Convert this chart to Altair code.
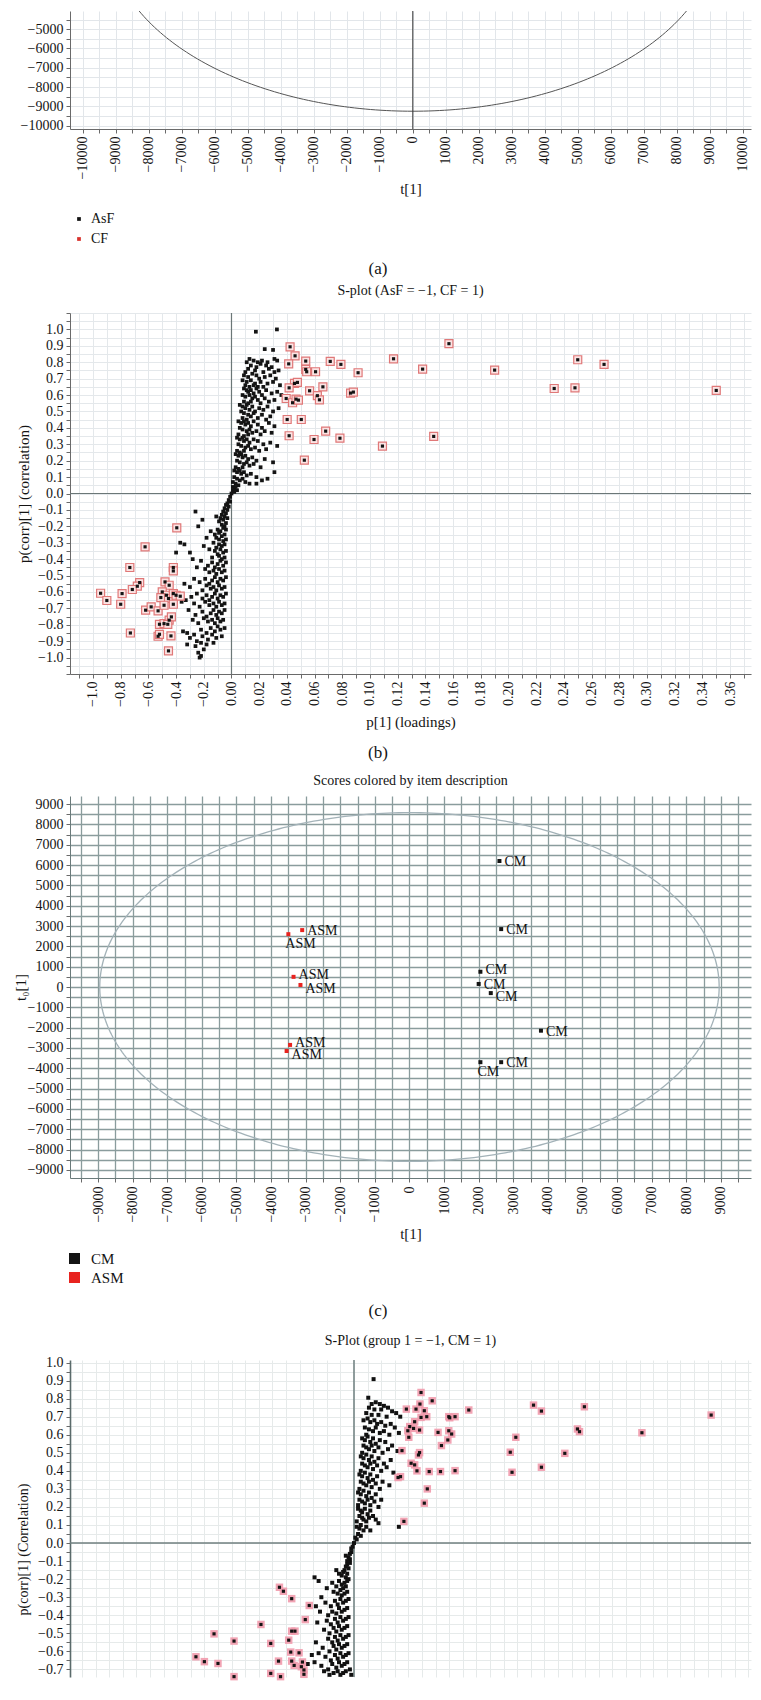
import altair as alt
import numpy as np
import pandas as pd

FONT = "Liberation Serif"
INK = "#141414"
W = 681          # common plot width
CAP_X = 308      # caption centre, relative to plot left

# ---------------- panel (a) ----------------
a_groups = ["AsF", "CF"]
a_colors = ["#141414", "#d8322c"]
a_ellipse_semi = [9230, 9250]
a_caption = "(a)"

# ---------------- panel (b) ----------------
b_title = "S-plot (AsF = \u22121, CF = 1)"
b_caption = "(b)"
b_black = [
    (0.0176, 0.986), (0.0328, 1.0), (0.024, 0.88), (0.030, 0.875),
    (0.013, 0.82), (0.016, 0.81), (0.011, 0.80), (0.019, 0.80), (0.022, 0.81), (0.026, 0.80), (0.031, 0.82), (0.033, 0.81),
    (0.014, 0.78), (0.018, 0.77), (0.021, 0.79), (0.025, 0.78), (0.029, 0.77), (0.012, 0.76), (0.017, 0.75), (0.027, 0.76),
    (0.034, 0.75), (0.010, 0.74), (0.023, 0.74), (0.031, 0.74),
    (0.009, 0.72), (0.012, 0.71), (0.015, 0.73), (0.018, 0.72), (0.020, 0.70), (0.024, 0.71), (0.028, 0.72), (0.032, 0.70),
    (0.008, 0.69), (0.011, 0.68), (0.014, 0.69), (0.017, 0.67), (0.021, 0.68), (0.026, 0.67), (0.030, 0.68), (0.035, 0.66),
    (0.010, 0.66), (0.013, 0.65), (0.016, 0.66), (0.019, 0.65), (0.023, 0.65),
    (0.009, 0.64), (0.011, 0.63), (0.012, 0.62), (0.014, 0.63), (0.016, 0.61), (0.018, 0.64), (0.020, 0.62), (0.022, 0.60),
    (0.025, 0.63), (0.029, 0.61), (0.033, 0.62), (0.036, 0.60), (0.008, 0.60), (0.010, 0.59), (0.013, 0.60), (0.015, 0.58),
    (0.017, 0.59), (0.019, 0.57), (0.024, 0.58), (0.027, 0.56), (0.031, 0.57), (0.009, 0.56), (0.012, 0.55), (0.014, 0.56),
    (0.021, 0.55),
    (0.006, 0.54), (0.008, 0.53), (0.010, 0.52), (0.011, 0.54), (0.013, 0.51), (0.015, 0.53), (0.017, 0.50), (0.020, 0.52),
    (0.023, 0.51), (0.026, 0.53), (0.030, 0.50), (0.034, 0.52), (0.007, 0.50), (0.009, 0.49), (0.012, 0.48), (0.014, 0.47),
    (0.016, 0.49), (0.019, 0.46), (0.022, 0.48), (0.028, 0.47), (0.008, 0.46), (0.011, 0.45), (0.025, 0.45),
    (0.005, 0.44), (0.007, 0.43), (0.009, 0.44), (0.010, 0.42), (0.012, 0.43), (0.014, 0.41), (0.016, 0.44), (0.019, 0.42),
    (0.022, 0.40), (0.027, 0.43), (0.031, 0.41), (0.006, 0.40), (0.008, 0.39), (0.011, 0.38), (0.013, 0.39), (0.015, 0.37),
    (0.018, 0.38), (0.021, 0.36), (0.024, 0.38), (0.029, 0.37), (0.005, 0.36), (0.009, 0.35), (0.012, 0.36),
    (0.004, 0.34), (0.006, 0.33), (0.008, 0.34), (0.009, 0.32), (0.011, 0.33), (0.013, 0.31), (0.016, 0.33), (0.019, 0.32),
    (0.023, 0.30), (0.028, 0.31), (0.033, 0.29), (0.005, 0.30), (0.007, 0.29), (0.010, 0.28), (0.012, 0.29), (0.014, 0.27),
    (0.017, 0.28), (0.020, 0.26), (0.025, 0.27), (0.004, 0.26), (0.006, 0.25), (0.009, 0.26),
    (0.003, 0.24), (0.005, 0.23), (0.007, 0.24), (0.008, 0.22), (0.010, 0.23), (0.012, 0.21), (0.015, 0.22), (0.018, 0.20),
    (0.024, 0.21), (0.030, 0.19), (0.004, 0.20), (0.006, 0.19), (0.009, 0.18), (0.011, 0.19), (0.013, 0.17), (0.016, 0.18),
    (0.021, 0.16), (0.003, 0.16), (0.005, 0.15), (0.008, 0.16), (0.031, 0.13),
    (0.002, 0.14), (0.004, 0.13), (0.006, 0.14), (0.007, 0.12), (0.009, 0.13), (0.011, 0.11), (0.014, 0.12), (0.018, 0.10),
    (0.022, 0.08), (0.026, 0.09), (0.002, 0.10), (0.004, 0.09), (0.006, 0.08), (0.008, 0.09), (0.010, 0.07), (0.013, 0.06),
    (0.003, 0.06), (0.005, 0.05), (0.001, 0.07), (0.018, 0.06),
    (0.001, 0.04), (0.002, 0.03), (0.003, 0.04), (0.001, 0.02), (0.002, 0.01), (0.004, 0.02), (0.0, 0.0),
    (-0.001, -0.02), (-0.002, -0.04), (-0.001, -0.05), (-0.003, -0.06), (-0.002, -0.08), (-0.004, -0.07), (-0.003, -0.10),
    (-0.005, -0.09), (-0.006, -0.11),
    (-0.004, -0.12), (-0.005, -0.14), (-0.007, -0.13), (-0.003, -0.15), (-0.006, -0.16), (-0.008, -0.15), (-0.004, -0.18),
    (-0.007, -0.19), (-0.009, -0.17), (-0.011, -0.14), (-0.026, -0.11), (-0.021, -0.16), (-0.005, -0.20),
    (-0.004, -0.22), (-0.006, -0.21), (-0.008, -0.23), (-0.010, -0.22), (-0.005, -0.25), (-0.007, -0.26), (-0.009, -0.24),
    (-0.012, -0.25), (-0.015, -0.23), (-0.004, -0.28), (-0.006, -0.29), (-0.009, -0.28), (-0.011, -0.27), (-0.018, -0.27),
    (-0.024, -0.20),
    (-0.005, -0.31), (-0.007, -0.32), (-0.009, -0.31), (-0.011, -0.33), (-0.013, -0.30), (-0.004, -0.35), (-0.006, -0.36),
    (-0.008, -0.34), (-0.010, -0.37), (-0.012, -0.35), (-0.016, -0.34), (-0.020, -0.32), (-0.034, -0.31), (-0.037, -0.30),
    (-0.005, -0.39), (-0.007, -0.40), (-0.009, -0.38), (-0.014, -0.39), (-0.030, -0.36), (-0.040, -0.36),
    (-0.004, -0.42), (-0.006, -0.44), (-0.008, -0.41), (-0.010, -0.43), (-0.012, -0.45), (-0.014, -0.42), (-0.017, -0.44),
    (-0.022, -0.41), (-0.005, -0.47), (-0.007, -0.48), (-0.009, -0.46), (-0.011, -0.49), (-0.013, -0.47), (-0.016, -0.48),
    (-0.019, -0.46), (-0.025, -0.45), (-0.028, -0.40),
    (-0.004, -0.51), (-0.006, -0.53), (-0.008, -0.52), (-0.010, -0.54), (-0.012, -0.51), (-0.014, -0.53), (-0.016, -0.55),
    (-0.019, -0.52), (-0.023, -0.54), (-0.027, -0.52), (-0.005, -0.57), (-0.007, -0.58), (-0.009, -0.56), (-0.011, -0.59),
    (-0.013, -0.57), (-0.015, -0.58), (-0.018, -0.56), (-0.021, -0.59), (-0.030, -0.57), (-0.034, -0.55),
    (-0.004, -0.61), (-0.006, -0.63), (-0.008, -0.62), (-0.010, -0.64), (-0.012, -0.61), (-0.014, -0.63), (-0.016, -0.65),
    (-0.018, -0.62), (-0.021, -0.64), (-0.025, -0.61), (-0.029, -0.63), (-0.033, -0.65), (-0.005, -0.67), (-0.007, -0.68),
    (-0.009, -0.66), (-0.011, -0.69), (-0.013, -0.67), (-0.016, -0.68), (-0.019, -0.66), (-0.023, -0.69), (-0.027, -0.67),
    (-0.036, -0.66),
    (-0.005, -0.71), (-0.007, -0.73), (-0.009, -0.72), (-0.011, -0.74), (-0.013, -0.71), (-0.015, -0.73), (-0.018, -0.75),
    (-0.021, -0.72), (-0.026, -0.74), (-0.031, -0.71), (-0.006, -0.77), (-0.008, -0.78), (-0.010, -0.76), (-0.012, -0.79),
    (-0.014, -0.77), (-0.017, -0.78), (-0.020, -0.76), (-0.024, -0.79), (-0.028, -0.77),
    (-0.005, -0.82), (-0.008, -0.83), (-0.010, -0.81), (-0.012, -0.84), (-0.015, -0.82), (-0.018, -0.85), (-0.022, -0.83),
    (-0.027, -0.86), (-0.032, -0.85), (-0.035, -0.84), (-0.007, -0.87), (-0.011, -0.88), (-0.014, -0.86), (-0.017, -0.89),
    (-0.021, -0.87), (-0.025, -0.90), (-0.030, -0.88),
    (-0.013, -0.91), (-0.018, -0.92), (-0.022, -0.91), (-0.026, -0.93), (-0.032, -0.92), (-0.020, -0.95), (-0.024, -0.97),
    (-0.023, -1.0), (-0.022, -0.99),
]
b_marked = [
    (0.0423, 0.894), (0.0459, 0.839), (0.0413, 0.79), (0.0536, 0.807), (0.0713, 0.805), (0.079, 0.787),
    (0.0536, 0.756), (0.0543, 0.742), (0.0607, 0.742), (0.0914, 0.736), (0.117, 0.821), (0.138, 0.758),
    (0.157, 0.913), (0.190, 0.752), (0.250, 0.815), (0.269, 0.787), (0.233, 0.640), (0.248, 0.644),
    (0.350, 0.628), (0.0455, 0.671), (0.0476, 0.677), (0.0416, 0.644), (0.0564, 0.626), (0.066, 0.650),
    (0.062, 0.596), (0.0635, 0.571), (0.086, 0.612), (0.088, 0.618), (0.0395, 0.579), (0.0441, 0.553),
    (0.0466, 0.575), (0.0483, 0.569), (0.0402, 0.451), (0.0504, 0.451), (0.0416, 0.352), (0.068, 0.380),
    (0.0596, 0.329), (0.0783, 0.337), (0.0526, 0.203), (0.109, 0.289), (0.146, 0.348),
    (-0.0395, -0.209), (-0.0624, -0.325), (-0.0734, -0.451), (-0.042, -0.451), (-0.042, -0.472),
    (-0.0663, -0.543), (-0.068, -0.565), (-0.0716, -0.585), (-0.0945, -0.608), (-0.079, -0.61),
    (-0.090, -0.652), (-0.080, -0.675), (-0.062, -0.711), (-0.058, -0.691), (-0.053, -0.715),
    (-0.048, -0.539), (-0.045, -0.559), (-0.050, -0.600), (-0.047, -0.620), (-0.051, -0.634),
    (-0.0455, -0.640), (-0.042, -0.610), (-0.040, -0.620), (-0.037, -0.626), (-0.042, -0.675),
    (-0.0487, -0.681), (-0.052, -0.797), (-0.0487, -0.793), (-0.045, -0.772), (-0.0434, -0.752),
    (-0.046, -0.797), (-0.073, -0.850), (-0.053, -0.870), (-0.052, -0.858), (-0.0437, -0.868),
    (-0.0455, -0.959),
]

# ---------------- panel (c) ----------------
c_title = "Scores colored by item description"
c_caption = "(c)"
c_groups = ["CM", "ASM"]
c_colors = ["#141414", "#e8231f"]
c_label = ["CM", "CM", "CM", "CM", "CM", "CM", "CM", "CM", "ASM", "ASM", "ASM", "ASM", "ASM", "ASM"]
c_t1 = [2600, 2650, 2050, 2000, 2350, 3800, 2050, 2650, -3100, -3500, -3350, -3150, -3450, -3550]
c_to1 = [6200, 2850, 750, 150, -300, -2150, -3700, -3700, 2800, 2600, 500, 100, -2850, -3150]
c_label_side = ["r", "r", "ru", "r", "rd", "r", "b", "r", "r", "b", "ru", "rd", "ru", "rd"]
c_ellipse_semi = [8950, 8580]

# ---------------- panel (d) ----------------
d_title = "S-Plot (group 1 = \u22121, CM = 1)"
d_black = [
    (0.0144, 0.908), (0.0105, 0.805),
    (0.013, 0.77), (0.016, 0.78), (0.019, 0.77), (0.022, 0.76), (0.011, 0.75), (0.015, 0.74), (0.020, 0.74), (0.025, 0.75),
    (0.028, 0.73), (0.031, 0.72), (0.009, 0.72), (0.013, 0.71), (0.018, 0.71), (0.024, 0.70), (0.034, 0.70),
    (0.007, 0.68), (0.010, 0.69), (0.012, 0.67), (0.015, 0.68), (0.017, 0.66), (0.020, 0.67), (0.023, 0.65), (0.027, 0.66),
    (0.030, 0.64), (0.008, 0.64), (0.011, 0.63), (0.014, 0.62), (0.016, 0.64), (0.019, 0.61), (0.022, 0.62), (0.026, 0.60),
    (0.033, 0.61), (0.009, 0.60),
    (0.006, 0.58), (0.008, 0.57), (0.010, 0.59), (0.012, 0.56), (0.014, 0.58), (0.016, 0.55), (0.019, 0.57), (0.023, 0.56),
    (0.028, 0.54), (0.007, 0.54), (0.009, 0.53), (0.011, 0.52), (0.013, 0.54), (0.015, 0.51), (0.018, 0.53), (0.021, 0.50),
    (0.025, 0.52), (0.032, 0.51), (0.006, 0.50),
    (0.005, 0.48), (0.007, 0.47), (0.009, 0.49), (0.011, 0.46), (0.013, 0.48), (0.015, 0.45), (0.018, 0.47), (0.022, 0.44),
    (0.027, 0.46), (0.006, 0.44), (0.008, 0.43), (0.010, 0.42), (0.012, 0.44), (0.014, 0.41), (0.017, 0.43), (0.020, 0.40),
    (0.024, 0.42), (0.029, 0.39), (0.005, 0.40),
    (0.004, 0.38), (0.006, 0.37), (0.008, 0.39), (0.010, 0.36), (0.012, 0.38), (0.014, 0.35), (0.017, 0.37), (0.021, 0.34),
    (0.005, 0.34), (0.007, 0.33), (0.009, 0.32), (0.011, 0.34), (0.013, 0.31), (0.016, 0.33), (0.019, 0.30), (0.026, 0.32),
    (0.004, 0.30),
    (0.003, 0.28), (0.005, 0.27), (0.007, 0.29), (0.009, 0.26), (0.011, 0.28), (0.013, 0.25), (0.016, 0.27), (0.020, 0.24),
    (0.004, 0.24), (0.006, 0.23), (0.008, 0.22), (0.010, 0.24), (0.012, 0.21), (0.015, 0.23), (0.018, 0.20), (0.003, 0.21),
    (0.003, 0.19), (0.005, 0.18), (0.006, 0.17), (0.008, 0.19), (0.010, 0.16), (0.012, 0.18), (0.014, 0.15), (0.004, 0.15),
    (0.006, 0.14), (0.007, 0.13), (0.009, 0.12), (0.011, 0.14), (0.016, 0.13), (0.018, 0.11), (0.002, 0.12),
    (0.002, 0.09), (0.004, 0.08), (0.005, 0.10), (0.007, 0.07), (0.009, 0.09), (0.012, 0.07), (0.003, 0.05), (0.005, 0.04),
    (0.001, 0.03), (0.002, 0.02), (0.033, 0.09), (0.0, 0.0),
    (-0.001, -0.02), (-0.002, -0.03), (-0.002, -0.05), (-0.003, -0.06), (-0.004, -0.08), (-0.003, -0.09), (-0.005, -0.10),
    (-0.006, -0.07),
    (-0.003, -0.11), (-0.005, -0.12), (-0.006, -0.13), (-0.004, -0.14), (-0.007, -0.15), (-0.008, -0.16), (-0.005, -0.17),
    (-0.009, -0.18), (-0.006, -0.19), (-0.011, -0.17), (-0.013, -0.15), (-0.004, -0.20),
    (-0.005, -0.21), (-0.007, -0.22), (-0.009, -0.23), (-0.011, -0.21), (-0.006, -0.24), (-0.008, -0.25), (-0.010, -0.26),
    (-0.013, -0.24), (-0.016, -0.22), (-0.005, -0.27), (-0.007, -0.28), (-0.009, -0.29), (-0.012, -0.28), (-0.015, -0.27),
    (-0.020, -0.25), (-0.026, -0.21), (-0.029, -0.19),
    (-0.004, -0.31), (-0.006, -0.32), (-0.008, -0.33), (-0.010, -0.31), (-0.012, -0.34), (-0.014, -0.32), (-0.017, -0.35),
    (-0.021, -0.33), (-0.024, -0.30), (-0.005, -0.36), (-0.007, -0.37), (-0.009, -0.38), (-0.011, -0.36), (-0.013, -0.39),
    (-0.016, -0.38), (-0.019, -0.40), (-0.025, -0.38), (-0.028, -0.35),
    (-0.004, -0.41), (-0.006, -0.42), (-0.008, -0.43), (-0.010, -0.41), (-0.012, -0.44), (-0.014, -0.42), (-0.017, -0.45),
    (-0.020, -0.43), (-0.005, -0.46), (-0.007, -0.47), (-0.009, -0.48), (-0.011, -0.46), (-0.013, -0.49), (-0.015, -0.47),
    (-0.018, -0.50), (-0.022, -0.48), (-0.027, -0.44),
    (-0.004, -0.51), (-0.006, -0.52), (-0.008, -0.53), (-0.010, -0.51), (-0.012, -0.54), (-0.014, -0.52), (-0.016, -0.55),
    (-0.019, -0.53), (-0.005, -0.56), (-0.007, -0.57), (-0.009, -0.58), (-0.011, -0.56), (-0.013, -0.59), (-0.015, -0.57),
    (-0.018, -0.60), (-0.023, -0.58), (-0.028, -0.55),
    (-0.004, -0.61), (-0.006, -0.62), (-0.008, -0.63), (-0.010, -0.61), (-0.012, -0.64), (-0.014, -0.62), (-0.017, -0.65),
    (-0.021, -0.63), (-0.026, -0.61), (-0.031, -0.62), (-0.005, -0.66), (-0.007, -0.67), (-0.009, -0.68), (-0.011, -0.66),
    (-0.013, -0.69), (-0.016, -0.67), (-0.019, -0.70), (-0.024, -0.68), (-0.029, -0.66), (-0.034, -0.67),
    (-0.006, -0.71), (-0.008, -0.72), (-0.010, -0.73), (-0.012, -0.71), (-0.015, -0.72), (-0.018, -0.73), (-0.022, -0.71),
    (-0.003, -0.70), (-0.002, -0.73),
]
d_marked = [
    (0.0493, 0.834), (0.0385, 0.742), (0.0456, 0.742), (0.0485, 0.770), (0.0575, 0.788), (0.0517, 0.733),
    (0.0535, 0.700), (0.0493, 0.696), (0.0446, 0.672), (0.041, 0.645), (0.0396, 0.622), (0.0438, 0.635),
    (0.0482, 0.626), (0.0403, 0.586), (0.0353, 0.512), (0.0482, 0.501), (0.0474, 0.488), (0.042, 0.442),
    (0.0446, 0.433), (0.0463, 0.400), (0.0553, 0.396), (0.0636, 0.396), (0.0743, 0.401), (0.0324, 0.363),
    (0.0342, 0.368), (0.0539, 0.300), (0.0517, 0.221), (0.0367, 0.120), (0.0697, 0.700), (0.0704, 0.694),
    (0.0743, 0.700), (0.0618, 0.613), (0.0697, 0.622), (0.0718, 0.604), (0.0690, 0.571), (0.0643, 0.540),
    (0.0844, 0.737), (0.132, 0.764), (0.1378, 0.731), (0.1694, 0.755), (0.2626, 0.709), (0.119, 0.586),
    (0.1149, 0.503), (0.1162, 0.392), (0.1378, 0.420), (0.155, 0.497), (0.1643, 0.632), (0.1658, 0.617),
    (0.2117, 0.611),
    (-0.0548, -0.245), (-0.0519, -0.267), (-0.0458, -0.308), (-0.0329, -0.346), (-0.0358, -0.424),
    (-0.0684, -0.451), (-0.0458, -0.488), (-0.0434, -0.488), (-0.1029, -0.503), (-0.0882, -0.543),
    (-0.0612, -0.556), (-0.048, -0.538), (-0.0465, -0.604), (-0.0404, -0.608), (-0.1162, -0.630),
    (-0.110, -0.657), (-0.100, -0.667), (-0.0555, -0.654), (-0.0458, -0.654), (-0.044, -0.678),
    (-0.0379, -0.659), (-0.0387, -0.685), (-0.0368, -0.703), (-0.0612, -0.722), (-0.0882, -0.740),
    (-0.054, -0.740), (-0.0368, -0.727),
]

# ---------------- tick positions ----------------
a_x_ticks = list(range(-10000, 10001, 500))
a_y_ticks = list(range(-10000, -4499, 500))
b_x_ticks = [round(i * 0.01, 2) for i in range(-11, 38)]
b_y_ticks = [round(i * 0.05, 2) for i in range(-22, 23)]
c_x_ticks = list(range(-9500, 9501, 500))
c_y_ticks = list(range(-9000, 9001, 500))
d_x_ticks = [round(i * 0.01, 2) for i in range(-20, 30)]
d_y_ticks = [round(i * 0.05, 2) for i in range(-14, 21)]


def ellipse_df(semi):
    t = np.linspace(0, 2 * np.pi, 361)
    return pd.DataFrame({"x": semi[0] * np.cos(t), "y": semi[1] * np.sin(t), "i": np.arange(361)})


def caption(text, ypix):
    return alt.Chart(pd.DataFrame({"t": [text]})).mark_text(
        font=FONT, fontSize=17, color=INK, baseline="middle"
    ).encode(text="t:N", x=alt.value(CAP_X), y=alt.value(ypix))


def pts(lst):
    return pd.DataFrame(lst, columns=["x", "y"])


LAB1000 = "datum.value % 1000 === 0 ? format(datum.value, 'd') : ''"
LAB01 = "abs(round(datum.value*100)) % 10 === 0 && abs(datum.value) < 1.05 ? format(datum.value, '.1f') : ''"
LABB = ("abs(round(datum.value*100)) % 2 === 0 && datum.value > -0.105 && datum.value < 0.365 ? "
        "(datum.value < -0.005 ? format(datum.value*10, '.1f') : format(datum.value, '.2f')) : ''")

AXIS_STYLE = dict(labelFont=FONT, labelFontSize=14, labelColor=INK, titleFont=FONT, titleFontSize=15,
                  titleFontWeight="normal", titleColor=INK, tickColor="#6a6a6a", tickSize=4,
                  labelPadding=3, labelOverlap=False, labelFlush=False, gridWidth=1)


def ax(**kw):
    d = dict(AXIS_STYLE)
    d.update(kw)
    return alt.Axis(**d)


def title(text):
    return alt.TitleParams(text=text, font=FONT, fontSize=14, fontWeight="normal", color=INK, offset=8)


# ================= panel (a) =================
HA = 118
xa = alt.X("x:Q", scale=alt.Scale(domain=[-10390, 10250], nice=False, zero=False),
           axis=ax(values=a_x_ticks, labelExpr=LAB1000, labelAngle=270, labelAlign="right",
                   labelBaseline="middle", gridColor="#e2e6ea", domainColor="#6a6a6a", title="t[1]",
                   titleY=59, titleBaseline="middle"))
ya = alt.Y("y:Q", scale=alt.Scale(domain=[-10171, -4057], nice=False, zero=False),
           axis=ax(values=a_y_ticks, labelExpr=LAB1000, gridColor="#e2e6ea", domainColor="#6a6a6a", title=None))
a_ell = alt.Chart(ellipse_df(a_ellipse_semi)).mark_line(clip=True, color="#555555", strokeWidth=1).encode(
    x=xa, y=ya, order="i:Q")
a_zero = alt.Chart(pd.DataFrame({"x": [0]})).mark_rule(color="#333333", strokeWidth=1).encode(x=xa)
a_leg = alt.Chart(pd.DataFrame({"ga": a_groups})).mark_square(opacity=0).encode(
    x=alt.value(0), y=alt.value(0),
    color=alt.Color("ga:N", scale=alt.Scale(domain=a_groups, range=a_colors),
                    legend=alt.Legend(orient="none", legendX=2, legendY=201, title=None, symbolType="square",
                                      symbolSize=14, symbolOpacity=1, symbolStrokeWidth=0, labelFont=FONT,
                                      labelFontSize=14, labelColor=INK, labelOffset=5, rowPadding=6, padding=0)))
panel_a = alt.layer(a_ell, a_zero, a_leg, caption(a_caption, 258)).properties(width=W, height=HA)

# ================= panel (b) =================
HB = 361
xb = alt.X("x:Q", scale=alt.Scale(domain=[-0.1166, 0.3751], nice=False, zero=False),
           axis=ax(values=b_x_ticks, labelExpr=LABB, labelAngle=270, labelAlign="right",
                   labelBaseline="middle", gridColor="#e4e8eb", domainColor="#6a6a6a", title="p[1] (loadings)",
                   titleY=47, titleBaseline="middle"))
yb = alt.Y("y:Q", scale=alt.Scale(domain=[-1.1, 1.1], nice=False, zero=False),
           axis=ax(values=b_y_ticks, labelExpr=LAB01, gridColor="#e4e8eb", domainColor="#6a6a6a",
                   title="p(corr)[1] (correlation)", titleX=-47, titleY=HB / 2,
                   titleBaseline="middle", titleAlign="center"))
b_vz = alt.Chart(pd.DataFrame({"x": [0]})).mark_rule(color="#6b7777", strokeWidth=1.2).encode(x=xb)
b_hz = alt.Chart(pd.DataFrame({"y": [0]})).mark_rule(color="#6b7777", strokeWidth=1.2).encode(y=yb)
b_pts = alt.Chart(pts(b_black)).mark_square(size=14, color=INK, opacity=1).encode(x=xb, y=yb)
b_box = alt.Chart(pts(b_marked)).mark_square(size=64, fill="#fbe3e3", stroke="#e07878", strokeWidth=1.2,
                                             opacity=1).encode(x=xb, y=yb)
b_dot = alt.Chart(pts(b_marked)).mark_square(size=10, color=INK, opacity=1).encode(x=xb, y=yb)
panel_b = alt.layer(b_vz, b_hz, b_pts, b_box, b_dot, caption(b_caption, 440)).properties(
    width=W, height=HB, title=title(b_title))

# ================= panel (c) =================
HC = 382
xc = alt.X("x:Q", scale=alt.Scale(domain=[-9810, 9870], nice=False, zero=False),
           axis=ax(values=c_x_ticks, labelExpr=LAB1000, labelAngle=270, labelAlign="right",
                   labelBaseline="middle", gridColor="#8a9c9d", gridWidth=1.3, labelPadding=4,
                   domainColor="#6a7a7a", title="t[1]", titleY=55, titleBaseline="middle"))
yc = alt.Y("y:Q", scale=alt.Scale(domain=[-9400, 9400], nice=False, zero=False),
           axis=ax(values=c_y_ticks, labelExpr=LAB1000, gridColor="#8a9c9d", gridWidth=1.3,
                   domainColor="#6a7a7a", title="t\u2080[1]", titleX=-50, titleY=HC / 2,
                   titleBaseline="middle", titleAlign="center"))
c_df = pd.DataFrame({"x": c_t1, "y": c_to1, "grp": c_label, "side": c_label_side})
c_ell = alt.Chart(ellipse_df(c_ellipse_semi)).mark_line(clip=True, color="#a3b2b8", strokeWidth=1.3).encode(
    x=xc, y=yc, order="i:Q")
c_pts = alt.Chart(c_df).mark_square(size=16, opacity=1).encode(
    x=xc, y=yc,
    color=alt.Color("grp:N", scale=alt.Scale(domain=c_groups, range=c_colors),
                    legend=alt.Legend(orient="none", legendX=-3, legendY=455, title=None, symbolType="square",
                                      symbolSize=121, symbolOpacity=1, symbolStrokeWidth=0, labelFont=FONT,
                                      labelFontSize=15, labelColor=INK, labelOffset=9, rowPadding=3, padding=0)))


def c_text(side, baseline, dx, dy):
    return alt.Chart(c_df).transform_filter(f"datum.side === '{side}'").mark_text(
        font=FONT, fontSize=14, color=INK, align="left", baseline=baseline, dx=dx, dy=dy
    ).encode(x=xc, y=yc, text="grp:N")


panel_c = alt.layer(
    c_ell, c_pts,
    c_text("r", "middle", 5, 1), c_text("ru", "middle", 5, -2), c_text("rd", "middle", 5, 4),
    c_text("b", "top", -3, 3),
    caption(c_caption, 515),
).properties(width=W, height=HC, title=title(c_title))

# ================= panel (d) =================
HD = 317
xd = alt.X("x:Q", scale=alt.Scale(domain=[-0.2088, 0.2919], nice=False, zero=False),
           axis=ax(values=d_x_ticks, labels=False, ticks=False, domain=False, gridColor="#e6eaea", title=None))
yd = alt.Y("y:Q", scale=alt.Scale(domain=[-0.742, 1.014], nice=False, zero=False),
           axis=ax(values=d_y_ticks, labelExpr=LAB01, gridColor="#e6eaea", domainColor="#5b6b6b",
                   domainWidth=1.6, title="p(corr)[1] (Correlation)", titleX=-47, titleY=189,
                   titleBaseline="middle", titleAlign="center", titleFontSize=14))
d_vz = alt.Chart(pd.DataFrame({"x": [0]})).mark_rule(color="#6f7f7f", strokeWidth=1.5).encode(x=xd)
d_hz = alt.Chart(pd.DataFrame({"y": [0]})).mark_rule(color="#6f7f7f", strokeWidth=1.5).encode(y=yd)
d_pts = alt.Chart(pts(d_black)).mark_square(size=16, color="#111111", opacity=1).encode(x=xd, y=yd)
d_box = alt.Chart(pts(d_marked)).mark_square(size=56, color="#f19aac", opacity=0.9).encode(x=xd, y=yd)
d_dot = alt.Chart(pts(d_marked)).mark_square(size=10, color=INK, opacity=1).encode(x=xd, y=yd)
panel_d = alt.layer(d_vz, d_hz, d_pts, d_box, d_dot).properties(width=W, height=HD, title=title(d_title))


def spacer(h):
    return alt.Chart(pd.DataFrame({"s": [0]})).mark_point(opacity=0).encode(
        x=alt.value(0), y=alt.value(0)).properties(width=W, height=h)


chart = alt.vconcat(
    panel_a, spacer(184), panel_b, spacer(122), panel_c, spacer(182), panel_d,
    spacing=0, bounds="flush",
).resolve_scale(color="independent").properties(
    padding={"left": 5, "top": 0, "right": 0, "bottom": 0},
    background="white",
).configure_view(stroke=None)

chart.save("out.html", embed_options={"renderer": "svg", "actions": False})
